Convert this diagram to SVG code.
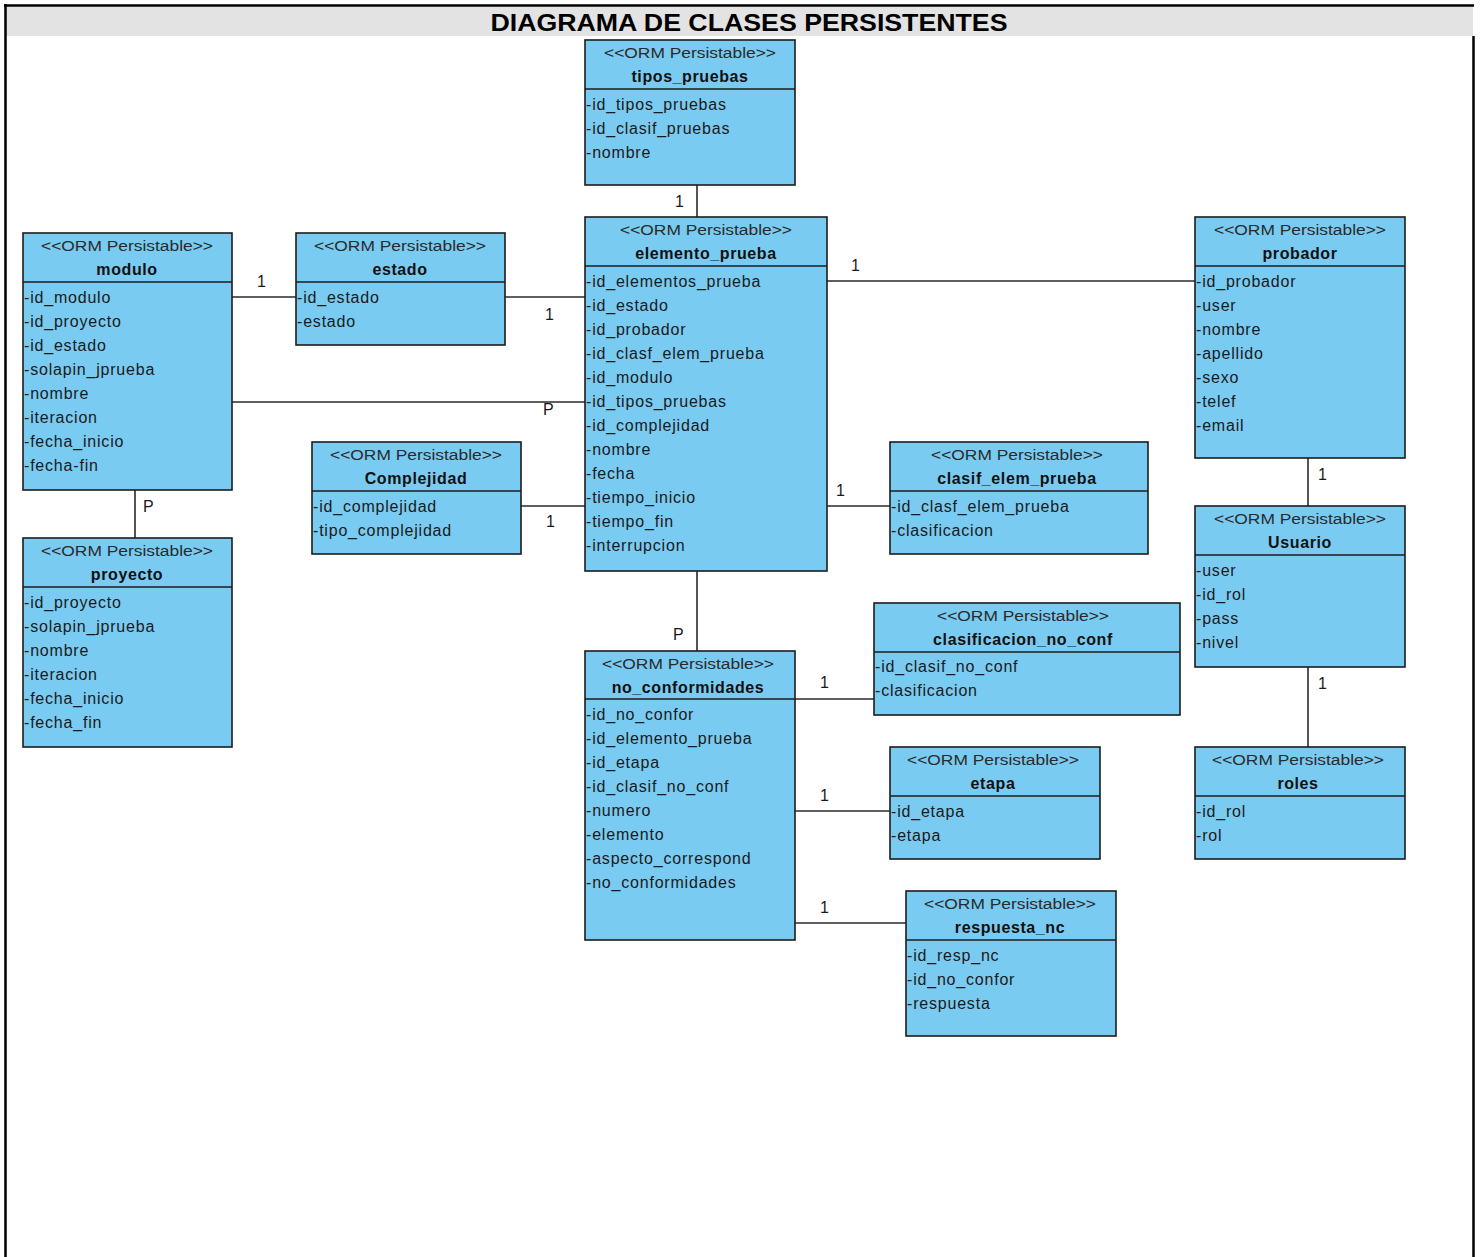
<svg xmlns="http://www.w3.org/2000/svg" width="1480" height="1257" viewBox="0 0 1480 1257">
  <style>
    .box { fill: #7acbf1; stroke: #1c1c1c; stroke-width: 1.6; }
    .div { stroke: #1c1c1c; stroke-width: 1.4; }
    .st { font-family: "Liberation Sans", Arial, sans-serif; font-size: 14px; fill: #2a2a2a; text-anchor: middle; }
    .nm { font-family: "Liberation Sans", Arial, sans-serif; font-size: 16px; font-weight: bold; fill: #111; text-anchor: middle; letter-spacing: 0.6px; }
    .at { font-family: "Liberation Sans", Arial, sans-serif; font-size: 16px; fill: #1a1a1a; letter-spacing: 0.8px; }
    .lb { font-family: "Liberation Sans", Arial, sans-serif; font-size: 16px; fill: #1a1a1a; }
    .cn { stroke: #2a2a2a; stroke-width: 1.6; fill: none; }
    .frame { stroke: #000; stroke-width: 2.5; fill: none; }
  </style>

  <!-- page frame and title band -->
  <g id="frame">
    <rect x="6" y="7" width="1467" height="29" fill="#e3e3e3"/>
    <line class="frame" x1="4" y1="5.5" x2="1474" y2="5.5"/>
    <line class="frame" x1="5.5" y1="4" x2="5.5" y2="1257"/>
    <line class="frame" x1="1473.5" y1="36" x2="1473.5" y2="1257"/>
    <text x="749" y="31" font-family="'Liberation Sans', Arial, sans-serif" font-size="24" font-weight="bold" text-anchor="middle" textLength="517" lengthAdjust="spacingAndGlyphs" fill="#000">DIAGRAMA DE CLASES PERSISTENTES</text>
  </g>

  <!-- associations -->
  <g id="connectors">
    <line class="cn" x1="697" y1="185" x2="697" y2="217"/>
    <text class="lb" x="684" y="207" text-anchor="end">1</text>

    <line class="cn" x1="232" y1="297" x2="296" y2="297"/>
    <text class="lb" x="257" y="287">1</text>

    <line class="cn" x1="505" y1="297" x2="585" y2="297"/>
    <text class="lb" x="545" y="320">1</text>

    <line class="cn" x1="232" y1="402" x2="585" y2="402"/>
    <text class="lb" x="543" y="415">P</text>

    <line class="cn" x1="521" y1="506" x2="585" y2="506"/>
    <text class="lb" x="546" y="527">1</text>

    <line class="cn" x1="135" y1="490" x2="135" y2="538"/>
    <text class="lb" x="143" y="512">P</text>

    <line class="cn" x1="827" y1="281" x2="1195" y2="281"/>
    <text class="lb" x="851" y="271">1</text>

    <line class="cn" x1="827" y1="506" x2="890" y2="506"/>
    <text class="lb" x="836" y="496">1</text>

    <line class="cn" x1="697" y1="571" x2="697" y2="651"/>
    <text class="lb" x="673" y="640">P</text>

    <line class="cn" x1="795" y1="699" x2="874" y2="699"/>
    <text class="lb" x="820" y="688">1</text>

    <line class="cn" x1="795" y1="811" x2="890" y2="811"/>
    <text class="lb" x="820" y="801">1</text>

    <line class="cn" x1="795" y1="923" x2="906" y2="923"/>
    <text class="lb" x="820" y="913">1</text>

    <line class="cn" x1="1308" y1="458" x2="1308" y2="506"/>
    <text class="lb" x="1318" y="480">1</text>

    <line class="cn" x1="1308" y1="667" x2="1308" y2="747"/>
    <text class="lb" x="1318" y="689">1</text>
  </g>

  <!-- tipos_pruebas -->
  <g id="tipos_pruebas">
    <rect class="box" x="585" y="40" width="210" height="145"/>
    <line class="div" x1="585" y1="89" x2="795" y2="89"/>
    <text class="st" x="690" y="58" textLength="172" lengthAdjust="spacingAndGlyphs">&lt;&lt;ORM Persistable&gt;&gt;</text>
    <text class="nm" x="690" y="82">tipos_pruebas</text>
    <text class="at" x="586" y="110">-id_tipos_pruebas</text>
    <text class="at" x="586" y="134">-id_clasif_pruebas</text>
    <text class="at" x="586" y="158">-nombre</text>
  </g>

  <!-- elemento_prueba -->
  <g id="elemento_prueba">
    <rect class="box" x="585" y="217" width="242" height="354"/>
    <line class="div" x1="585" y1="266" x2="827" y2="266"/>
    <text class="st" x="706" y="235" textLength="172" lengthAdjust="spacingAndGlyphs">&lt;&lt;ORM Persistable&gt;&gt;</text>
    <text class="nm" x="706" y="259">elemento_prueba</text>
    <text class="at" x="586" y="287">-id_elementos_prueba</text>
    <text class="at" x="586" y="311">-id_estado</text>
    <text class="at" x="586" y="335">-id_probador</text>
    <text class="at" x="586" y="359">-id_clasf_elem_prueba</text>
    <text class="at" x="586" y="383">-id_modulo</text>
    <text class="at" x="586" y="407">-id_tipos_pruebas</text>
    <text class="at" x="586" y="431">-id_complejidad</text>
    <text class="at" x="586" y="455">-nombre</text>
    <text class="at" x="586" y="479">-fecha</text>
    <text class="at" x="586" y="503">-tiempo_inicio</text>
    <text class="at" x="586" y="527">-tiempo_fin</text>
    <text class="at" x="586" y="551">-interrupcion</text>
  </g>

  <!-- modulo -->
  <g id="modulo">
    <rect class="box" x="23" y="233" width="209" height="257"/>
    <line class="div" x1="23" y1="282" x2="232" y2="282"/>
    <text class="st" x="127" y="251" textLength="172" lengthAdjust="spacingAndGlyphs">&lt;&lt;ORM Persistable&gt;&gt;</text>
    <text class="nm" x="127" y="275">modulo</text>
    <text class="at" x="24" y="303">-id_modulo</text>
    <text class="at" x="24" y="327">-id_proyecto</text>
    <text class="at" x="24" y="351">-id_estado</text>
    <text class="at" x="24" y="375">-solapin_jprueba</text>
    <text class="at" x="24" y="399">-nombre</text>
    <text class="at" x="24" y="423">-iteracion</text>
    <text class="at" x="24" y="447">-fecha_inicio</text>
    <text class="at" x="24" y="471">-fecha-fin</text>
  </g>

  <!-- estado -->
  <g id="estado">
    <rect class="box" x="296" y="233" width="209" height="112"/>
    <line class="div" x1="296" y1="282" x2="505" y2="282"/>
    <text class="st" x="400" y="251" textLength="172" lengthAdjust="spacingAndGlyphs">&lt;&lt;ORM Persistable&gt;&gt;</text>
    <text class="nm" x="400" y="275">estado</text>
    <text class="at" x="297" y="303">-id_estado</text>
    <text class="at" x="297" y="327">-estado</text>
  </g>

  <!-- Complejidad -->
  <g id="Complejidad">
    <rect class="box" x="312" y="442" width="209" height="112"/>
    <line class="div" x1="312" y1="491" x2="521" y2="491"/>
    <text class="st" x="416" y="460" textLength="172" lengthAdjust="spacingAndGlyphs">&lt;&lt;ORM Persistable&gt;&gt;</text>
    <text class="nm" x="416" y="484">Complejidad</text>
    <text class="at" x="313" y="512">-id_complejidad</text>
    <text class="at" x="313" y="536">-tipo_complejidad</text>
  </g>

  <!-- proyecto -->
  <g id="proyecto">
    <rect class="box" x="23" y="538" width="209" height="209"/>
    <line class="div" x1="23" y1="587" x2="232" y2="587"/>
    <text class="st" x="127" y="556" textLength="172" lengthAdjust="spacingAndGlyphs">&lt;&lt;ORM Persistable&gt;&gt;</text>
    <text class="nm" x="127" y="580">proyecto</text>
    <text class="at" x="24" y="608">-id_proyecto</text>
    <text class="at" x="24" y="632">-solapin_jprueba</text>
    <text class="at" x="24" y="656">-nombre</text>
    <text class="at" x="24" y="680">-iteracion</text>
    <text class="at" x="24" y="704">-fecha_inicio</text>
    <text class="at" x="24" y="728">-fecha_fin</text>
  </g>

  <!-- probador -->
  <g id="probador">
    <rect class="box" x="1195" y="217" width="210" height="241"/>
    <line class="div" x1="1195" y1="266" x2="1405" y2="266"/>
    <text class="st" x="1300" y="235" textLength="172" lengthAdjust="spacingAndGlyphs">&lt;&lt;ORM Persistable&gt;&gt;</text>
    <text class="nm" x="1300" y="259">probador</text>
    <text class="at" x="1196" y="287">-id_probador</text>
    <text class="at" x="1196" y="311">-user</text>
    <text class="at" x="1196" y="335">-nombre</text>
    <text class="at" x="1196" y="359">-apellido</text>
    <text class="at" x="1196" y="383">-sexo</text>
    <text class="at" x="1196" y="407">-telef</text>
    <text class="at" x="1196" y="431">-email</text>
  </g>

  <!-- clasif_elem_prueba -->
  <g id="clasif_elem_prueba">
    <rect class="box" x="890" y="442" width="258" height="112"/>
    <line class="div" x1="890" y1="491" x2="1148" y2="491"/>
    <text class="st" x="1017" y="460" textLength="172" lengthAdjust="spacingAndGlyphs">&lt;&lt;ORM Persistable&gt;&gt;</text>
    <text class="nm" x="1017" y="484">clasif_elem_prueba</text>
    <text class="at" x="891" y="512">-id_clasf_elem_prueba</text>
    <text class="at" x="891" y="536">-clasificacion</text>
  </g>

  <!-- Usuario -->
  <g id="Usuario">
    <rect class="box" x="1195" y="506" width="210" height="161"/>
    <line class="div" x1="1195" y1="555" x2="1405" y2="555"/>
    <text class="st" x="1300" y="524" textLength="172" lengthAdjust="spacingAndGlyphs">&lt;&lt;ORM Persistable&gt;&gt;</text>
    <text class="nm" x="1300" y="548">Usuario</text>
    <text class="at" x="1196" y="576">-user</text>
    <text class="at" x="1196" y="600">-id_rol</text>
    <text class="at" x="1196" y="624">-pass</text>
    <text class="at" x="1196" y="648">-nivel</text>
  </g>

  <!-- clasificacion_no_conf -->
  <g id="clasificacion_no_conf">
    <rect class="box" x="874" y="603" width="306" height="112"/>
    <line class="div" x1="874" y1="652" x2="1180" y2="652"/>
    <text class="st" x="1023" y="621" textLength="172" lengthAdjust="spacingAndGlyphs">&lt;&lt;ORM Persistable&gt;&gt;</text>
    <text class="nm" x="1023" y="645">clasificacion_no_conf</text>
    <text class="at" x="875" y="672">-id_clasif_no_conf</text>
    <text class="at" x="875" y="696">-clasificacion</text>
  </g>

  <!-- no_conformidades -->
  <g id="no_conformidades">
    <rect class="box" x="585" y="651" width="210" height="289"/>
    <line class="div" x1="585" y1="699" x2="795" y2="699"/>
    <text class="st" x="688" y="669" textLength="172" lengthAdjust="spacingAndGlyphs">&lt;&lt;ORM Persistable&gt;&gt;</text>
    <text class="nm" x="688" y="693">no_conformidades</text>
    <text class="at" x="586" y="720">-id_no_confor</text>
    <text class="at" x="586" y="744">-id_elemento_prueba</text>
    <text class="at" x="586" y="768">-id_etapa</text>
    <text class="at" x="586" y="792">-id_clasif_no_conf</text>
    <text class="at" x="586" y="816">-numero</text>
    <text class="at" x="586" y="840">-elemento</text>
    <text class="at" x="586" y="864">-aspecto_correspond</text>
    <text class="at" x="586" y="888">-no_conformidades</text>
  </g>

  <!-- etapa -->
  <g id="etapa">
    <rect class="box" x="890" y="747" width="210" height="112"/>
    <line class="div" x1="890" y1="796" x2="1100" y2="796"/>
    <text class="st" x="993" y="765" textLength="172" lengthAdjust="spacingAndGlyphs">&lt;&lt;ORM Persistable&gt;&gt;</text>
    <text class="nm" x="993" y="789">etapa</text>
    <text class="at" x="891" y="817">-id_etapa</text>
    <text class="at" x="891" y="841">-etapa</text>
  </g>

  <!-- roles -->
  <g id="roles">
    <rect class="box" x="1195" y="747" width="210" height="112"/>
    <line class="div" x1="1195" y1="796" x2="1405" y2="796"/>
    <text class="st" x="1298" y="765" textLength="172" lengthAdjust="spacingAndGlyphs">&lt;&lt;ORM Persistable&gt;&gt;</text>
    <text class="nm" x="1298" y="789">roles</text>
    <text class="at" x="1196" y="817">-id_rol</text>
    <text class="at" x="1196" y="841">-rol</text>
  </g>

  <!-- respuesta_nc -->
  <g id="respuesta_nc">
    <rect class="box" x="906" y="891" width="210" height="145"/>
    <line class="div" x1="906" y1="940" x2="1116" y2="940"/>
    <text class="st" x="1010" y="909" textLength="172" lengthAdjust="spacingAndGlyphs">&lt;&lt;ORM Persistable&gt;&gt;</text>
    <text class="nm" x="1010" y="933">respuesta_nc</text>
    <text class="at" x="907" y="961">-id_resp_nc</text>
    <text class="at" x="907" y="985">-id_no_confor</text>
    <text class="at" x="907" y="1009">-respuesta</text>
  </g>
</svg>
